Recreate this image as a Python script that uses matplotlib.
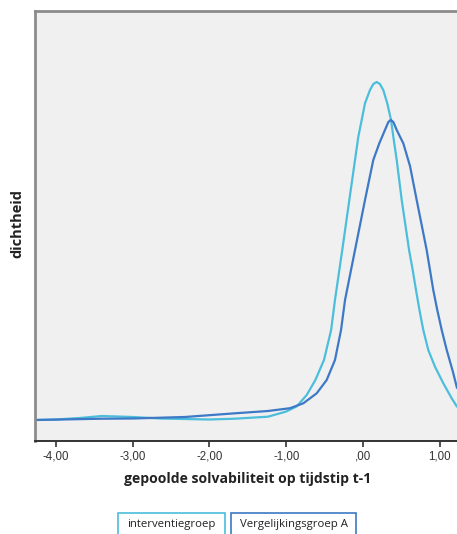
import numpy as np
from matplotlib import pyplot as plt
from matplotlib.patches import Rectangle

## Data (x = solvability, y = density) ##
x_interventie = [-4.271, -4.00, -3.69, -3.40, -3.00, -2.64, -2.005, -1.667, -1.237, -1.003,
                 -0.863, -0.733, -0.62, -0.508, -0.415, -0.365, -0.27, -0.178, -0.104, -0.061,
                 -0.017, 0.026, 0.091, 0.135, 0.178, 0.22, 0.264, 0.316, 0.365, 0.395,
                 0.439, 0.504, 0.60, 0.647, 0.69, 0.735, 0.785, 0.85, 0.9375, 1.046,
                 1.155, 1.224]
y_interventie = [0.0, 0.0025, 0.01, 0.02, 0.015, 0.0075, 0.0025, 0.0065, 0.0165, 0.042,
                 0.068, 0.125, 0.20, 0.30, 0.45, 0.60, 0.85, 1.10, 1.30, 1.4165,
                 1.50, 1.5835, 1.65, 1.68, 1.69, 1.68, 1.65, 1.5835, 1.50, 1.4165,
                 1.30, 1.10, 0.85, 0.75, 0.65, 0.55, 0.45, 0.35, 0.2665, 0.1835,
                 0.1085, 0.0665]

x_vergelijking = [-4.271, -4.00, -3.40, -3.00, -2.32, -1.667, -1.237, -0.951, -0.777, -0.603,
                  -0.473, -0.365, -0.286, -0.234, -0.104, 0.026, 0.134, 0.212, 0.286, 0.33,
                  0.361, 0.395, 0.439, 0.525, 0.612, 0.699, 0.829, 0.872, 0.915, 0.967,
                  1.025, 1.09, 1.168, 1.224]
y_vergelijking = [0.0, 0.002, 0.0065, 0.0075, 0.015, 0.0335, 0.045, 0.059, 0.0835, 0.1335,
                  0.20, 0.30, 0.45, 0.60, 0.85, 1.10, 1.30, 1.383, 1.45, 1.49,
                  1.50, 1.49, 1.45, 1.383, 1.27, 1.10, 0.85, 0.75, 0.65, 0.55,
                  0.45, 0.35, 0.245, 0.16]

xticks = [-4, -3, -2, -1, 0, 1]
xtick_labels = ['-4,00', '-3,00', '-2,00', '-1,00', ',00', '1,00']
groups = ['interventiegroep', 'Vergelijkingsgroep A']
colors = ['#4cbedb', '#3d79c6']

## Plotting ##
fig = plt.figure(figsize=(4.57, 5.34), dpi=100)
ax = fig.add_axes([35/457, 93/534, 1 - 35/457, 430/534])
ax.set_facecolor('#f0f0f0')

ax.plot(x_interventie, y_interventie, color=colors[0], lw=1.6,
        solid_joinstyle='round', solid_capstyle='round')
ax.plot(x_vergelijking, y_vergelijking, color=colors[1], lw=1.6,
        solid_joinstyle='round', solid_capstyle='round')

ax.set_xlim(-4.271, 1.224)
ax.set_ylim(-0.105, 2.045)

ax.set_xticks(xticks)
ax.set_xticklabels(xtick_labels, fontsize=8.3, color='#333333', family='Liberation Sans')
ax.set_yticks([])
ax.tick_params(axis='x', direction='out', length=4, width=1.2, color='#333333', pad=3)

for side in ['top', 'left']:
    ax.spines[side].set_color('#8c8c8c')
    ax.spines[side].set_linewidth(2)
ax.spines['bottom'].set_color('#333333')
ax.spines['bottom'].set_linewidth(1.4)
ax.spines['right'].set_visible(False)

fig.text(248/457, 1 - 479/534, 'gepoolde solvabiliteit op tijdstip t-1', ha='center', va='center',
         fontsize=10.1, fontweight='bold', family='Open Sans', color='#222222')
fig.text(17/457, 1 - 224/534, 'dichtheid', ha='center', va='center', rotation=90,
         fontsize=10.5, fontweight='bold', family='Open Sans', color='#222222')

# legend boxes like the SPSS output
boxes = [(118, 225), (231, 356)]
for (x0, x1), label, c in zip(boxes, groups, colors):
    fig.patches.append(Rectangle((x0/457, -0.05), (x1 - x0)/457, (534 - 513)/534 + 0.05,
                                 transform=fig.transFigure, fill=False, edgecolor=c, lw=1.2))
    fig.text((x0 + x1)/2/457, 1 - 524/534, label, ha='center', va='center',
             fontsize=8.2, family='Open Sans', color='#222222')

fig.savefig('out.png', dpi=100)
